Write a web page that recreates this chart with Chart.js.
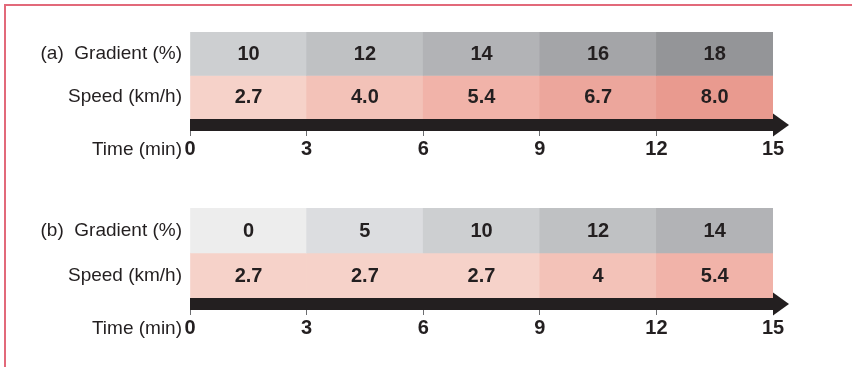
<!DOCTYPE html>
<html>
<head>
<meta charset="utf-8">
<script src="https://cdn.jsdelivr.net/npm/chart.js@4.4.1/dist/chart.umd.min.js"></script>
<style>
  html, body { margin: 0; padding: 0; background: #fff; }
  #wrap { position: relative; width: 852px; height: 367px; overflow: hidden; }
  #frame { position: absolute; left: 4px; top: 4px; right: -10px; bottom: -10px;
           border-left: 2px solid #e2697a; border-top: 2px solid #e2697a; }
  .panel { position: absolute; left: 0; width: 852px; height: 182px; }
</style>
</head>
<body>
<div id="wrap">
  <div id="frame"></div>
  <div class="panel" style="top:0"><canvas id="chartA" width="852" height="182"></canvas></div>
  <div class="panel" style="top:176px"><canvas id="chartB" width="852" height="182"></canvas></div>
</div>
<script>
// stage boundaries (min) - also the time axis ticks
const stageTimes = [0, 3, 6, 9, 12, 15];

// protocol (a)
const gradientA = [10, 12, 14, 16, 18];
const speedA = ['2.7', '4.0', '5.4', '6.7', '8.0'];

// protocol (b)
const gradientB = [0, 5, 10, 12, 14];
const speedB = ['2.7', '2.7', '2.7', '4', '5.4'];

const gradientColors = {0: '#ededed', 5: '#dcdde0', 10: '#cdcfd1', 12: '#bfc1c3',
                        14: '#b2b3b6', 16: '#a4a5a8', 18: '#949598'};
const speedColors = {'2.7': '#f6d2c9', '4': '#f3c2b8', '5.4': '#f1b3a9',
                     '6.7': '#eca69c', '8': '#e99a8f'};

const ink = '#231f20';
const labelFont = {family: '"Liberation Sans", Arial, Helvetica, sans-serif', size: 19};
const numFont = {family: '"Liberation Sans", Arial, Helvetica, sans-serif', size: 20, weight: 'bold'};

// numbers written in the middle of each cell
const cellText = {
    id: 'cellText',
    afterDatasetsDraw(chart) {
        const ctx = chart.ctx;
        ctx.save();
        ctx.fillStyle = ink;
        ctx.font = 'bold 20px "Liberation Sans", Arial, sans-serif';
        ctx.textAlign = 'center';
        ctx.textBaseline = 'middle';
        chart.data.datasets.forEach((ds, i) => {
            chart.getDatasetMeta(i).data.forEach((bar, j) => {
                ctx.fillText(ds.texts[j], (bar.x + bar.base) / 2, bar.y + 0.5);
            });
        });
        ctx.restore();
    }
};

// black time arrow along the bottom of the rows, plus the "Time (min)" caption
const timeArrow = {
    id: 'timeArrow',
    afterDatasetsDraw(chart) {
        const ctx = chart.ctx;
        const x = chart.scales.x;
        const top = chart.chartArea.bottom;
        const x0 = x.getPixelForValue(stageTimes[0]);
        const x1 = x.getPixelForValue(stageTimes[stageTimes.length - 1]);
        const h = 12;
        ctx.save();
        ctx.fillStyle = ink;
        ctx.fillRect(x0, top, x1 - x0, h);
        ctx.beginPath();
        ctx.moveTo(x1, top + h / 2 - 11.5);
        ctx.lineTo(x1 + 16, top + h / 2);
        ctx.lineTo(x1, top + h / 2 + 11.5);
        ctx.closePath();
        ctx.fill();

        ctx.font = '19px "Liberation Sans", Arial, sans-serif';
        ctx.textAlign = 'right';
        ctx.textBaseline = 'middle';
        const o = x.options;
        ctx.fillText('Time (min)', x0 - 8, x.top + o.grid.tickLength + o.ticks.padding + 13);
        ctx.restore();
    }
};

function makePanel(id, rowLabels, gradients, speeds, padBottom) {
    const stage = (i) => [stageTimes[i], stageTimes[i + 1]];
    new Chart(document.getElementById(id), {
        type: 'bar',
        data: {
            labels: rowLabels,
            datasets: [
                {
                    data: gradients.map((g, i) => ({x: stage(i), y: rowLabels[0]})),
                    texts: gradients.map(String),
                    backgroundColor: gradients.map(g => gradientColors[g])
                },
                {
                    data: speeds.map((s, i) => ({x: stage(i), y: rowLabels[1]})),
                    texts: speeds,
                    backgroundColor: speeds.map(s => speedColors[String(parseFloat(s))])
                }
            ]
        },
        options: {
            indexAxis: 'y',
            responsive: false,
            animation: false,
            devicePixelRatio: 1,
            layout: {padding: {top: 32, right: 79, bottom: padBottom, left: 0}},
            datasets: {
                bar: {
                    grouped: false,
                    barPercentage: 1,
                    categoryPercentage: 1,
                    borderWidth: 0
                }
            },
            scales: {
                x: {
                    type: 'linear',
                    min: stageTimes[0],
                    max: stageTimes[stageTimes.length - 1],
                    afterBuildTicks: (s) => { s.ticks = stageTimes.map(v => ({value: v})); },
                    ticks: {color: ink, font: numFont, padding: 1, maxRotation: 0},
                    grid: {drawOnChartArea: false, tickLength: 17, tickWidth: 1, tickColor: '#6d6e71'},
                    border: {display: false}
                },
                y: {
                    type: 'category',
                    afterFit: (s) => { s.width = 190; },
                    ticks: {color: ink, font: labelFont, padding: 8},
                    grid: {display: false, drawTicks: false},
                    border: {display: false}
                }
            },
            plugins: {
                legend: {display: false},
                tooltip: {enabled: false}
            }
        },
        plugins: [cellText, timeArrow]
    });
}

makePanel('chartA', ['(a)  Gradient (%)', 'Speed (km/h)'], gradientA, speedA, 20);
makePanel('chartB', ['(b)  Gradient (%)', 'Speed (km/h)'], gradientB, speedB, 17);
</script>
</body>
</html>
